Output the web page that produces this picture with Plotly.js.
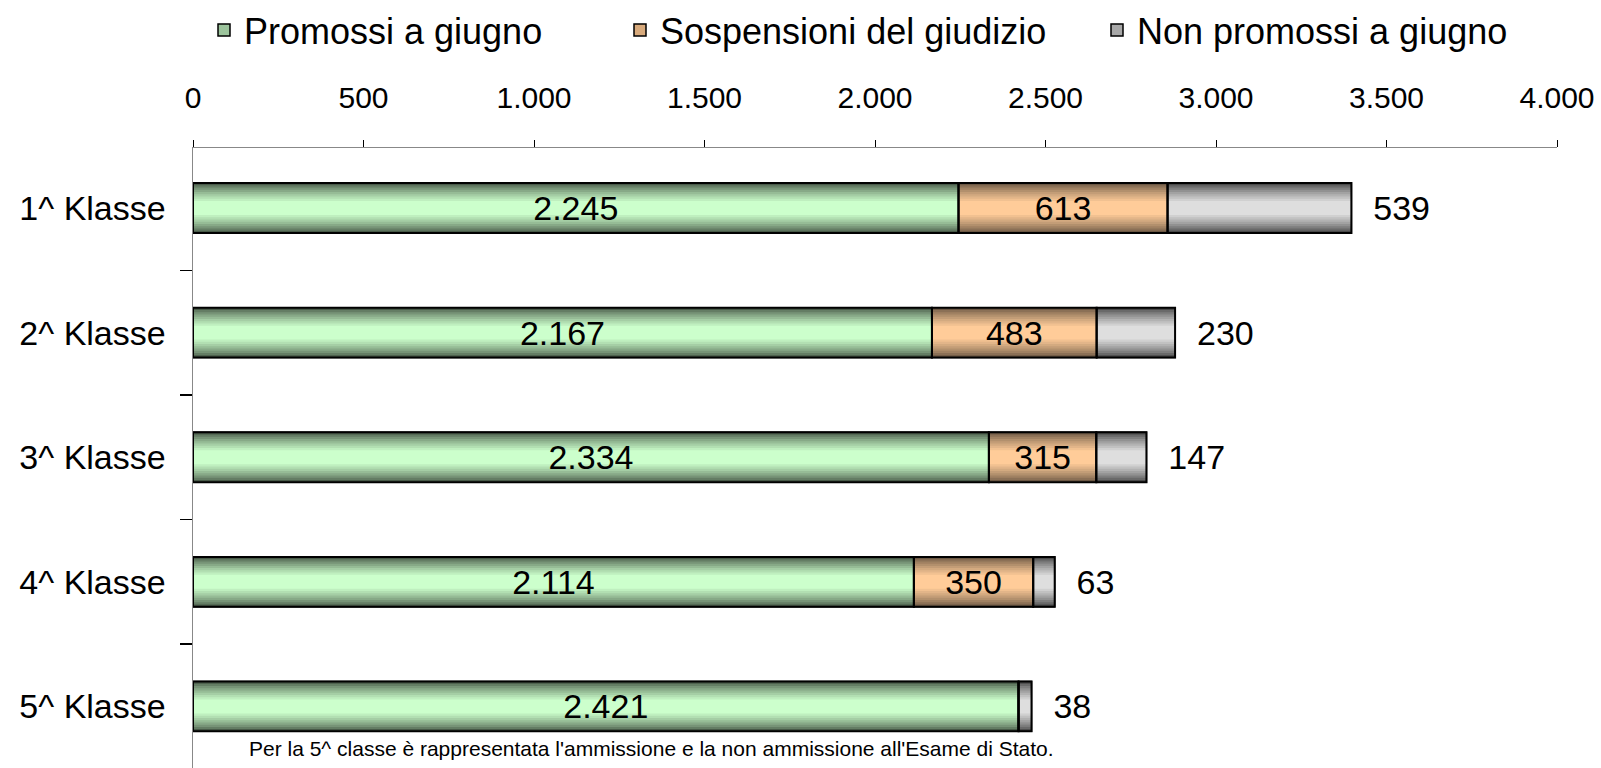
<!DOCTYPE html>
<html>
<head>
<meta charset="utf-8">
<script src="https://cdn.plot.ly/plotly-3.0.1.min.js"></script>
<style>
html,body{margin:0;padding:0;background:#fff;}
#chart{width:1601px;height:768px;}
</style>
</head>
<body>
<div id="chart"></div>
<script>
// ---- data ----
const categories = ['1^ Klasse', '2^ Klasse', '3^ Klasse', '4^ Klasse', '5^ Klasse'];
const promossi = [2245, 2167, 2334, 2114, 2421];
const sospensioni = [613, 483, 315, 350, 0];
const nonPromossi = [539, 230, 147, 63, 38];
const seriesNames = ['Promossi a giugno', 'Sospensioni del giudizio', 'Non promossi a giugno'];
const footnote = "Per la 5^ classe è rappresentata l'ammissione e la non ammissione all'Esame di Stato.";

// ---- styling ----
const FONT = '"Liberation Sans", Arial, sans-serif';
const palettes = [
  {dark: [72, 90, 72], light: [204, 255, 204], mid: '#9cc49c'},
  {dark: [108, 88, 68], light: [255, 204, 153], mid: '#d8aa7c'},
  {dark: [74, 74, 74], light: [222, 222, 222], mid: '#a8a8a8'}
];
const legendIds = ['legend', 'legend2', 'legend3'];
const legendX = [204, 620, 1097];   // pixel positions of the legend entries
const BAR_W = 0.40;
const LAYERS = 9;

function fmt(v) { return String(v).replace(/\B(?=(\d{3})+(?!\d))/g, '.'); }
function mix(a, b, t) {
  return 'rgb(' + a.map((v, i) => Math.round(v + (b[i] - v) * t)).join(',') + ')';
}

const seriesValues = [promossi, sospensioni, nonPromossi];
const bases = [
  promossi.map(() => 0),
  promossi.slice(),
  promossi.map((v, i) => v + sospensioni[i])
];

const traces = [];
seriesValues.forEach((vals, s) => {
  const p = palettes[s];
  // legend carrier (covered by the gradient layers)
  traces.push({
    type: 'bar', orientation: 'h', y: categories, x: vals, base: bases[s],
    width: BAR_W, name: seriesNames[s], showlegend: true, legend: legendIds[s],
    marker: {color: p.mid, line: {color: '#000', width: 1.5}},
    hoverinfo: 'skip', textposition: 'none'
  });
  // gradient layers
  for (let k = 0; k < LAYERS; k++) {
    const t = k / (LAYERS - 1);
    traces.push({
      type: 'bar', orientation: 'h', y: categories, x: vals, base: bases[s],
      width: BAR_W * (1 - 0.72 * t), showlegend: false,
      marker: {color: mix(p.dark, p.light, Math.pow(t, 0.75)), line: {width: 0}},
      hoverinfo: 'skip', textposition: 'none'
    });
  }
});
// outlines + labels on top
seriesValues.forEach((vals, s) => {
  const outside = s === 2;
  traces.push({
    type: 'bar', orientation: 'h', y: categories, x: vals, base: bases[s],
    width: BAR_W, showlegend: false,
    marker: {color: 'rgba(0,0,0,0)', line: {color: '#000', width: 2}},
    text: vals.map(v => v === 0 ? '' : (outside ? '\u00a0\u00a0' + fmt(v) : fmt(v))),
    textposition: outside ? 'outside' : 'inside',
    insidetextanchor: 'middle',
    constraintext: 'none',
    cliponaxis: false,
    textfont: {family: FONT, size: 34, color: '#000'},
    hoverinfo: 'skip'
  });
});

function legendCfg(px) {
  return {
    orientation: 'h', xref: 'container', yref: 'container',
    x: px / 1601, xanchor: 'left', y: 1 - 30 / 768, yanchor: 'middle',
    font: {family: FONT, size: 36, color: '#000'},
    bgcolor: 'rgba(0,0,0,0)', borderwidth: 0,
    itemclick: false, itemdoubleclick: false
  };
}

const layout = {
  width: 1601, height: 768,
  margin: {l: 193, r: 44, t: 148, b: 0, pad: 0},
  paper_bgcolor: '#fff', plot_bgcolor: '#fff',
  font: {family: FONT, color: '#000'},
  separators: ',.',
  barmode: 'overlay',
  hovermode: false,
  showlegend: true,
  legend: legendCfg(legendX[0]),
  legend2: legendCfg(legendX[1]),
  legend3: legendCfg(legendX[2]),
  xaxis: {
    side: 'top', range: [0, 4000], dtick: 500, tick0: 0, tickformat: ',',
    showgrid: false, zeroline: false,
    showline: true, linecolor: '#888', linewidth: 1.5,
    ticks: 'outside', ticklen: 7, tickwidth: 1, tickcolor: '#000',
    ticklabelstandoff: 20,
    tickfont: {family: FONT, size: 30, color: '#000'},
    fixedrange: true
  },
  yaxis: {
    type: 'category', categoryorder: 'array', categoryarray: categories,
    range: [4.494, -0.4815],
    tickson: 'boundaries', ticks: 'outside', ticklen: 12, tickwidth: 1.5, tickcolor: '#000',
    showline: true, linecolor: '#888', linewidth: 1.5,
    showgrid: false, zeroline: false,
    ticklabelstandoff: 19,
    tickfont: {family: FONT, size: 34, color: '#000'},
    fixedrange: true
  },
  annotations: [{
    text: footnote, xref: 'paper', yref: 'paper',
    x: 0.3358, y: 0.032, xanchor: 'center', yanchor: 'middle',
    showarrow: false, font: {family: FONT, size: 21, color: '#000'}
  }]
};

Plotly.newPlot('chart', traces, layout, {displayModeBar: false, staticPlot: true});
</script>
</body>
</html>
